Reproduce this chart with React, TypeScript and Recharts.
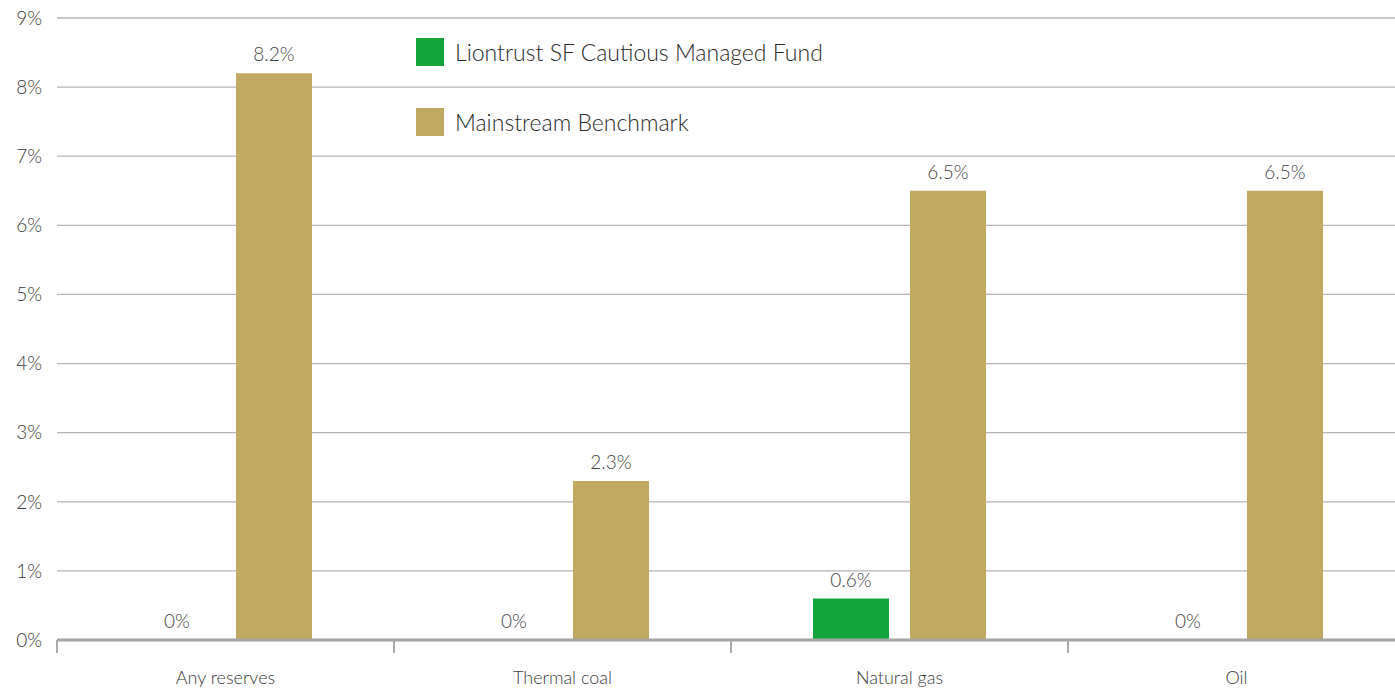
import React from 'react';
import { BarChart, Bar, XAxis, YAxis, CartesianGrid, Legend, LabelList } from 'recharts';

const categories = ['Any reserves', 'Thermal coal', 'Natural gas', 'Oil'];
const fundValues = [0, 0, 0.6, 0];
const benchmarkValues = [8.2, 2.3, 6.5, 6.5];
const yTicks = [0, 1, 2, 3, 4, 5, 6, 7, 8, 9];

const GREEN = '#13a43c';
const GOLD = '#c2a962';
const FONT = 'Lato, "Noto Sans", sans-serif';
const X_TICK_GAP = 31;

const data = categories.map((name, i) => ({
  name,
  fund: fundValues[i],
  benchmark: benchmarkValues[i],
}));

const pct = (v: any) => `${v}%`;

// category label plus a short tick at the left edge of each band
const CategoryTick = (props: any) => {
  const { x, y, payload } = props;
  const edge = payload.coordinate - (payload.offset || 0);
  const axisY = y - X_TICK_GAP;
  return (
    <g>
      <line x1={edge} x2={edge} y1={axisY} y2={axisY + 13} stroke="#aaa" strokeWidth={2} />
      <text x={x} y={y} dy="0.71em" textAnchor="middle" fill="#3a3a3a" fontSize={18} fontFamily={FONT} fontWeight={300}>
        {payload.value}
      </text>
    </g>
  );
};

const LegendBox = (props: any) => {
  const items = props.payload || [];
  return (
    <div style={{ fontFamily: FONT }}>
      {items.map((item: any) => (
        <div key={item.value} style={{ display: 'flex', alignItems: 'center', height: 28, marginBottom: 42 }}>
          <div style={{ width: 28, height: 28, background: item.color }}></div>
          <span style={{ marginLeft: 11, fontSize: 23, fontWeight: 300, color: '#2a2a2a', whiteSpace: 'nowrap' }}>{item.value}</span>
        </div>
      ))}
    </div>
  );
};

const labelStyle = { fill: '#444', fontSize: 19, fontFamily: FONT, fontWeight: 300 };

const App: React.FC = () => {
  return (
    <div style={{ position: 'absolute', left: 0, top: 0, width: 1395, height: 690, overflow: 'hidden', background: '#fff' }}>
      <BarChart
        width={1405}
        height={690}
        data={data}
        margin={{ top: 18, right: 0, bottom: 0, left: 0 }}
        barSize={76}
        barGap={21}
      >
        <CartesianGrid vertical={false} stroke="#b5b5b5" strokeWidth={1.3} />
        <XAxis
          dataKey="name"
          height={50}
          axisLine={{ stroke: '#a5a5a5', strokeWidth: 3 }}
          tickLine={false}
          tickSize={0}
          tickMargin={X_TICK_GAP}
          tick={<CategoryTick />}
        />
        <YAxis
          domain={[0, 9]}
          ticks={yTicks}
          tickFormatter={pct}
          width={57}
          axisLine={false}
          tickLine={false}
          tickSize={0}
          tickMargin={15}
          tick={{ fill: '#3a3a3a', fontSize: 19, fontFamily: FONT, fontWeight: 300 }}
        />
        <Legend
          layout="vertical"
          align="center"
          verticalAlign="middle"
          content={<LegendBox />}
          wrapperStyle={{ left: 416, top: 38, width: 500 }}
        />
        <Bar dataKey="fund" name="Liontrust SF Cautious Managed Fund" fill={GREEN} minPointSize={0.01} isAnimationActive={false}>
          <LabelList dataKey="fund" position="top" offset={12} formatter={pct} {...labelStyle} />
        </Bar>
        <Bar dataKey="benchmark" name="Mainstream Benchmark" fill={GOLD} isAnimationActive={false}>
          <LabelList dataKey="benchmark" position="top" offset={12} formatter={pct} {...labelStyle} />
        </Bar>
      </BarChart>
    </div>
  );
};

export default App;
